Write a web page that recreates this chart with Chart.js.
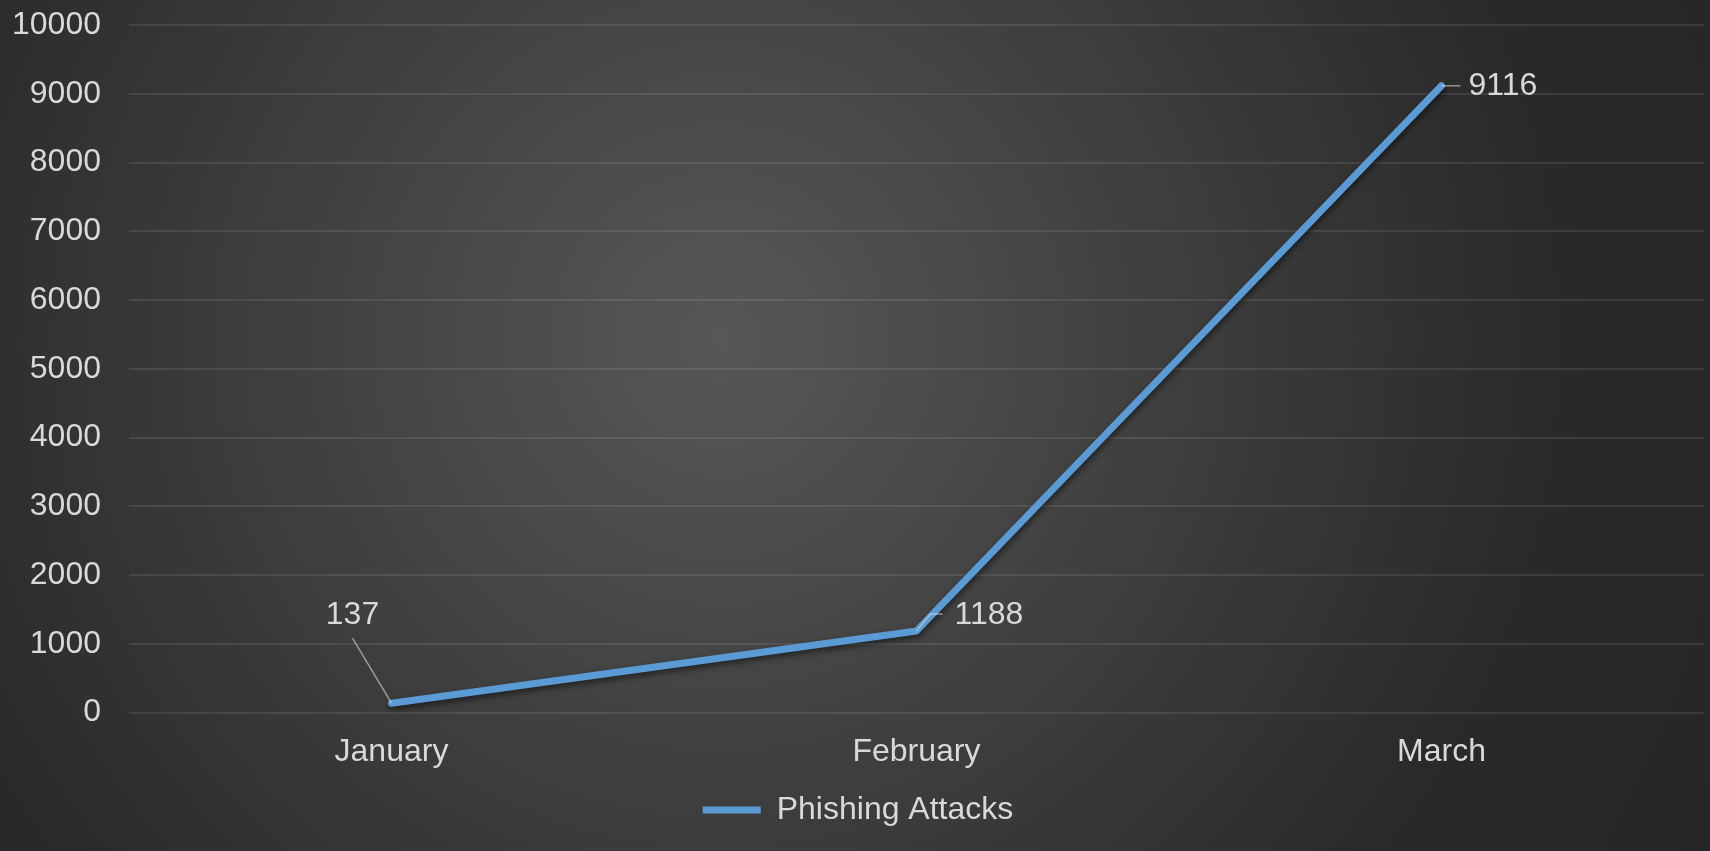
<!DOCTYPE html>
<html>
<head>
<meta charset="utf-8">
<script src="https://cdn.jsdelivr.net/npm/chart.js@4.4.0/dist/chart.umd.min.js"></script>
<style>
    html, body { margin: 0; padding: 0; background: #2a2a2a; }
    #wrap { width: 1710px; height: 851px; }
</style>
</head>
<body>
<div id="wrap"><canvas id="phishingChart"></canvas></div>
<script>
// Chart data
const months = ['January', 'February', 'March'];
const phishingAttacks = [137, 1188, 9116];
const yTicks = [0, 1000, 2000, 3000, 4000, 5000, 6000, 7000, 8000, 9000, 10000];

const textColor = '#d9d9d9';
const fontFamily = '"Liberation Sans", Arial, sans-serif';

// Radial dark background like the Excel style
const backgroundPlugin = {
    id: 'background',
    beforeDraw(chart) {
        const ctx = chart.ctx;
        const w = chart.width, h = chart.height;
        const g = ctx.createRadialGradient(720, 340, 0, 720, 340, 1100);
        g.addColorStop(0, '#575757');
        g.addColorStop(0.75, '#2a2a2a');
        g.addColorStop(1, '#262626');
        ctx.save();
        ctx.fillStyle = g;
        ctx.fillRect(0, 0, w, h);
        ctx.restore();
    }
};

// Shadow under the line plus data labels with leader lines
const labelPlugin = {
    id: 'dataLabels',
    beforeDatasetDraw(chart) {
        const ctx = chart.ctx;
        ctx.save();
        ctx.shadowColor = 'rgba(0, 0, 0, 0.55)';
        ctx.shadowBlur = 6;
        ctx.shadowOffsetX = 1;
        ctx.shadowOffsetY = 3;
    },
    afterDatasetDraw(chart) {
        chart.ctx.restore();
    },
    afterDatasetsDraw(chart, args, opts) {
        const ctx = chart.ctx;
        const meta = chart.getDatasetMeta(0);
        const values = chart.data.datasets[0].data;
        ctx.save();
        ctx.font = '32px ' + fontFamily;
        ctx.fillStyle = textColor;
        ctx.textBaseline = 'middle';
        meta.data.forEach((pt, i) => {
            const p = opts.placement[i];
            ctx.strokeStyle = 'rgba(217,217,217,0.6)';
            ctx.lineWidth = 1.5;
            ctx.beginPath();
            ctx.moveTo(pt.x, pt.y);
            p.leader.forEach(([dx, dy]) => ctx.lineTo(pt.x + dx, pt.y + dy));
            ctx.stroke();
            ctx.textAlign = p.align;
            ctx.fillText(String(values[i]), pt.x + p.dx, pt.y + p.dy);
        });
        ctx.restore();
    }
};

const ctx = document.getElementById('phishingChart').getContext('2d');
new Chart(ctx, {
    type: 'line',
    data: {
        labels: months,
        datasets: [{
            label: 'Phishing Attacks',
            data: phishingAttacks,
            borderColor: '#5b9bd5',
            backgroundColor: '#5b9bd5',
            borderWidth: 7,
            borderCapStyle: 'round',
            borderJoinStyle: 'round',
            pointRadius: 0,
            tension: 0,
            fill: false
        }]
    },
    options: {
        responsive: true,
        maintainAspectRatio: false,
        animation: false,
        layout: {
            padding: { top: 0, right: 6, left: 12, bottom: 15 }
        },
        plugins: {
            legend: {
                position: 'bottom',
                labels: {
                    color: textColor,
                    font: { size: 32, family: fontFamily },
                    usePointStyle: true,
                    pointStyle: 'line',
                    pointStyleWidth: 58,
                    boxHeight: 10,
                    padding: 11
                }
            },
            tooltip: { enabled: false },
            dataLabels: {
                placement: [
                    { dx: -39, dy: -88, align: 'center', leader: [[-39, -65]] },
                    { dx: 38, dy: -16, align: 'left', leader: [[14, -17], [26, -17]] },
                    { dx: 27, dy: 0, align: 'left', leader: [[19, 0]] }
                ]
            }
        },
        scales: {
            x: {
                offset: true,
                grid: { display: false },
                border: { display: false },
                ticks: {
                    color: textColor,
                    font: { size: 32, family: fontFamily },
                    padding: 12
                }
            },
            y: {
                min: 0,
                max: 10000,
                afterBuildTicks(axis) {
                    axis.ticks = yTicks.map(v => ({ value: v }));
                },
                // tick padding otherwise adds to the margins
                afterFit(axis) {
                    axis.width -= 28;
                    axis.paddingTop = 25;
                    axis.paddingBottom = 19;
                },
                grid: {
                    color: 'rgba(255,255,255,0.09)',
                    lineWidth: 2,
                    drawTicks: false
                },
                border: { display: false },
                ticks: {
                    color: textColor,
                    font: { size: 32, family: fontFamily },
                    padding: 28,
                    callback: v => String(v)
                }
            }
        }
    },
    plugins: [backgroundPlugin, labelPlugin]
});
</script>
</body>
</html>
